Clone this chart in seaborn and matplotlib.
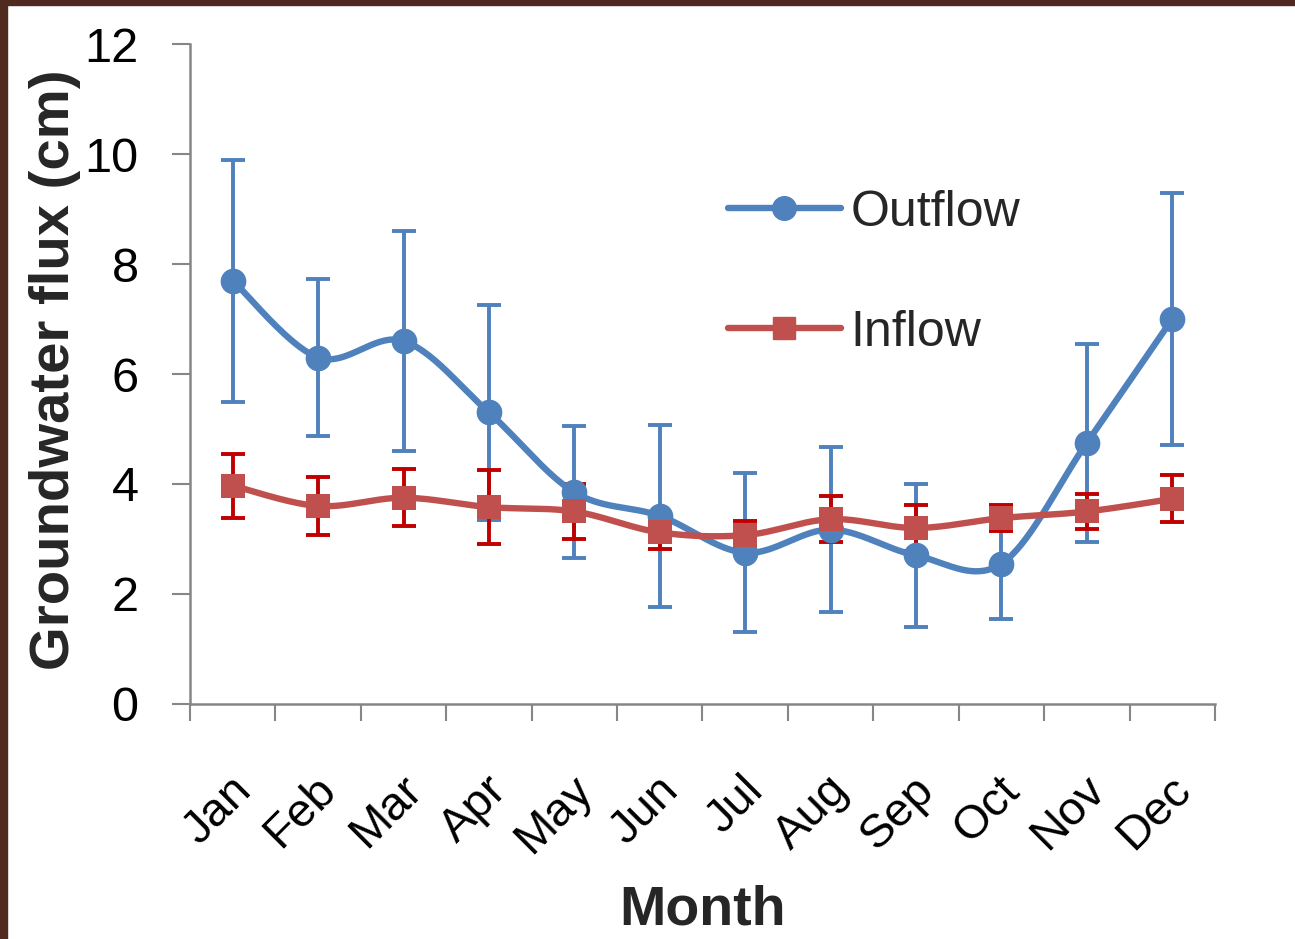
import numpy as np
import pandas as pd
import matplotlib
matplotlib.use("Agg")
import matplotlib.pyplot as plt
from matplotlib.lines import Line2D
from matplotlib.patches import Rectangle
from matplotlib.transforms import ScaledTranslation
import seaborn as sns

months = ["Jan", "Feb", "Mar", "Apr", "May", "Jun", "Jul", "Aug", "Sep", "Oct", "Nov", "Dec"]
outflow = [7.7, 6.3, 6.6, 5.3, 3.85, 3.42, 2.75, 3.17, 2.7, 2.55, 4.75, 7.0]
outflow_err = [2.2, 1.42, 2.0, 1.95, 1.2, 1.65, 1.45, 1.5, 1.3, 1.0, 1.8, 2.3]
inflow = [3.97, 3.6, 3.75, 3.58, 3.5, 3.12, 3.07, 3.36, 3.2, 3.38, 3.5, 3.73]
inflow_err = [0.58, 0.52, 0.52, 0.68, 0.5, 0.3, 0.25, 0.42, 0.42, 0.24, 0.32, 0.43]

BLUE = "#4F81BD"
RED = "#C0504D"
DARKRED = "#C00000"
GRAY = "#868686"


def smooth_curve(xs, ys, n=40):
    """Excel-like smoothed line (Catmull-Rom Bezier) through the data points."""
    xs = np.asarray(xs, float)
    ys = np.asarray(ys, float)
    P = np.column_stack([xs, ys])
    Pe = np.vstack([P[0], P, P[-1]])
    out = []
    t = np.linspace(0, 1, n)[:, None]
    for i in range(len(P) - 1):
        p0, p3 = Pe[i + 1], Pe[i + 2]
        p1 = p0 + (Pe[i + 2] - Pe[i]) / 6.0
        p2 = p3 - (Pe[i + 3] - Pe[i + 1]) / 6.0
        seg = ((1 - t) ** 3) * p0 + 3 * ((1 - t) ** 2) * t * p1 + 3 * (1 - t) * t ** 2 * p2 + t ** 3 * p3
        out.append(seg if i == 0 else seg[1:])
    out = np.vstack(out)
    return out[:, 0], out[:, 1]


sns.set_theme(style="white")
plt.rcParams["font.family"] = ["Liberation Sans", "DejaVu Sans"]

fig = plt.figure(figsize=(12.95, 9.39), dpi=100)
fig.patch.set_facecolor("white")
ax = fig.add_axes([0.1467, 0.2503, 0.9382 - 0.1467, 0.9531 - 0.2503])

x = np.arange(len(months))
df = pd.DataFrame({"month": months, "x": x, "outflow": outflow, "inflow": inflow})

# error bars
ax.errorbar(x, outflow, yerr=outflow_err, fmt="none", ecolor=BLUE, elinewidth=2.8,
            capsize=8.6, capthick=2.8, zorder=2)
ax.errorbar(x, inflow, yerr=inflow_err, fmt="none", ecolor=DARKRED, elinewidth=2.8,
            capsize=8.6, capthick=2.8, zorder=3)

# smoothed lines
sx, sy = smooth_curve(x, outflow)
sns.lineplot(x=sx, y=sy, ax=ax, color=BLUE, linewidth=4.6, sort=False, estimator=None, zorder=4)
sns.scatterplot(data=df, x="x", y="outflow", ax=ax, color=BLUE, marker="o", s=18.5 ** 2,
                edgecolor=BLUE, linewidth=0, zorder=5)
sx2, sy2 = smooth_curve(x, inflow)
sns.lineplot(x=sx2, y=sy2, ax=ax, color=RED, linewidth=4.6, sort=False, estimator=None, zorder=6)
sns.scatterplot(data=df, x="x", y="inflow", ax=ax, color=RED, marker="s", s=17.5 ** 2,
                edgecolor=RED, linewidth=0, zorder=7)

ax.set_xlim(-0.5, len(months) - 0.5)
ax.set_ylim(0, 12)
ax.set_yticks([0, 2, 4, 6, 8, 10, 12])
ax.set_xticks(x)
ax.set_xticklabels(months, rotation=45, ha="right", rotation_mode="anchor", fontsize=34)
ax.set_xticks(np.arange(-0.5, len(months), 1.0), minor=True)
ax.tick_params(axis="x", which="major", bottom=True, length=0, pad=46, labelcolor="black")
ax.tick_params(axis="x", which="minor", bottom=True, length=12, width=1.5, color=GRAY,
               direction="out")
ax.tick_params(axis="y", which="major", left=True, length=13, width=1.5, color=GRAY,
               direction="out", labelsize=35, pad=24, labelcolor="black")
offset = ScaledTranslation(-4 / 100, 0, fig.dpi_scale_trans)
for lbl in ax.get_xticklabels():
    lbl.set_transform(lbl.get_transform() + offset)

for side in ["top", "right"]:
    ax.spines[side].set_visible(False)
for side in ["left", "bottom"]:
    ax.spines[side].set_color(GRAY)
    ax.spines[side].set_linewidth(1.8)

ax.set_xlabel("Month", fontsize=40, fontweight="bold")
ax.set_ylabel("Groundwater flux (cm)", fontsize=40.5, fontweight="bold")
ax.xaxis.set_label_coords(0.5, -0.274)
ax.yaxis.set_label_coords(-0.106, 0.506)

handles = [
    Line2D([], [], color=BLUE, linewidth=4.6, marker="o", markersize=17),
    Line2D([], [], color=RED, linewidth=4.6, marker="s", markersize=16),
]
leg = ax.legend(handles, ["Outflow", "Inflow"], loc="upper left", bbox_to_anchor=(0.525, 0.779),
                frameon=False, fontsize=36, handlelength=2.25, handletextpad=0.2,
                labelspacing=1.48, borderaxespad=0, borderpad=0)

# dark frame at top and left edges
fig.patches.append(Rectangle((0, 1 - 5 / 939), 1, 5 / 939, transform=fig.transFigure,
                             color="#512A1F", zorder=10))
fig.patches.append(Rectangle((0, 0), 7 / 1295, 1, transform=fig.transFigure,
                             color="#512A1F", zorder=10))

fig.savefig("out.png", dpi=100)
